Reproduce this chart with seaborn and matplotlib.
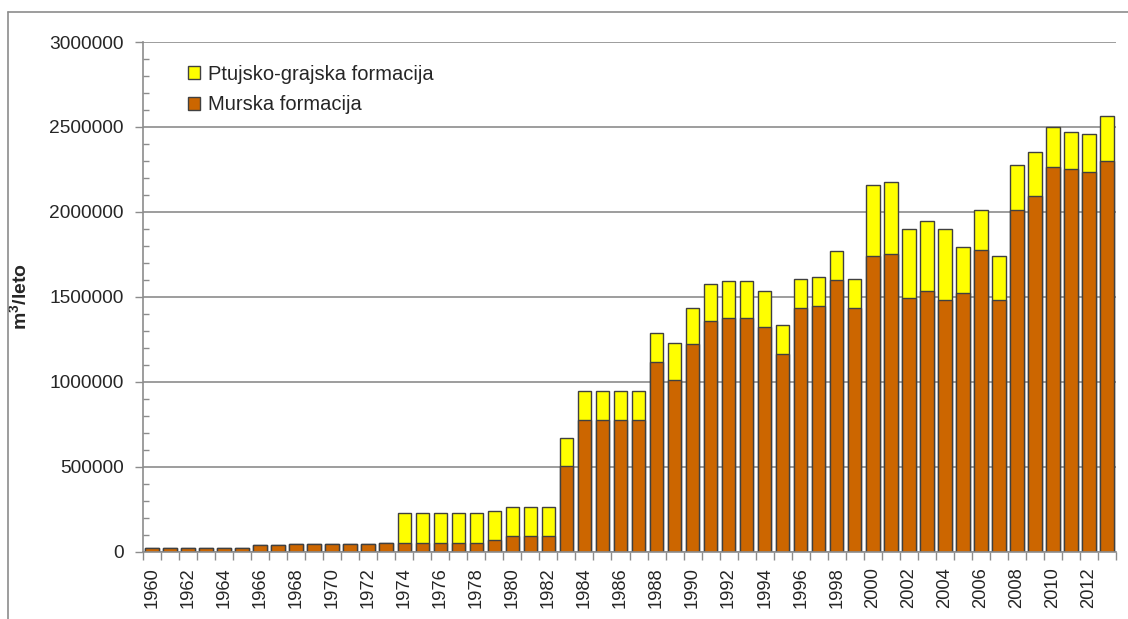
import numpy as np
import matplotlib
matplotlib.use("Agg")
import matplotlib.pyplot as plt
from matplotlib.patches import Patch
from matplotlib.lines import Line2D
import seaborn as sns

sns.set_style("white")
plt.rcParams["font.family"] = ["Liberation Sans", "DejaVu Sans"]
plt.rcParams["mathtext.fontset"] = "custom"
plt.rcParams["mathtext.rm"] = "Liberation Sans"
plt.rcParams["mathtext.bf"] = "Liberation Sans:bold"

years = list(range(1960, 2014))

murska = [
    20000, 20000, 20000, 20000, 20000, 20000,           # 1960-1965
    37000, 37000,                                        # 1966-1967
    45000, 45000, 45000, 45000, 45000,                   # 1968-1972
    53000,                                               # 1973
    52000, 52000, 52000, 52000, 52000,                   # 1974-1978
    67000,                                               # 1979
    93000, 93000, 93000,                                 # 1980-1982
    505000,                                              # 1983
    775000, 775000, 775000, 775000,                      # 1984-1987
    1118000, 1008000, 1220000, 1359000, 1375000, 1375000,  # 1988-1993
    1322000, 1165000, 1437000, 1445000, 1600000, 1437000,  # 1994-1999
    1741000, 1755000, 1492000, 1537000, 1482000, 1522000,  # 2000-2005
    1778000, 1482000, 2010000, 2096000, 2267000, 2251000,  # 2006-2011
    2237000, 2298000,                                    # 2012-2013
]

ptujsko = [
    0, 0, 0, 0, 0, 0,
    0, 0,
    0, 0, 0, 0, 0,
    0,
    173000, 173000, 173000, 173000, 173000,
    174000,
    172000, 172000, 172000,
    165000,
    172000, 172000, 172000, 172000,
    170000, 218000, 217000, 218000, 217000, 217000,
    215000, 170000, 169000, 171000, 171000, 169000,
    418000, 422000, 410000, 412000, 420000, 272000,
    234000, 257000, 265000, 257000, 233000, 218000,
    224000, 265000,
]

series_names = ["Ptujsko-grajska formacija", "Murska formacija"]
yticks = [0, 500000, 1000000, 1500000, 2000000, 2500000, 3000000]

yellow = "#FFFF00"
brown = "#CC6600"
edge = "#404040"
gray = "#8C8C8C"

labels = [str(y) for y in years]
total = [m + p for m, p in zip(murska, ptujsko)]

fig = plt.figure(figsize=(11.28, 6.19), dpi=100)
ax = fig.add_axes([143 / 1128, 1 - 551.7 / 619, 973 / 1128, 509.7 / 619])

sns.barplot(x=labels, y=total, color=yellow, saturation=1, width=0.75,
            edgecolor=edge, linewidth=1.0, errorbar=None, ax=ax, zorder=3)
sns.barplot(x=labels, y=murska, color=brown, saturation=1, width=0.75,
            edgecolor=edge, linewidth=1.0, errorbar=None, ax=ax, zorder=3)

ax.set_xlim(-0.5, len(years) - 0.5)
ax.set_ylim(0, 3000000)

ax.set_yticks(yticks)
ax.set_yticklabels([str(v) for v in yticks], fontsize=13.8)
ax.set_yticks(np.arange(0, 3000001, 100000), minor=True)
ax.tick_params(axis="y", which="major", direction="out", length=6, width=1,
               color=gray, pad=8, left=True)
ax.tick_params(axis="y", which="minor", direction="in", length=4, width=1,
               color=gray, left=True)

ax.set_xticks(range(0, len(years), 2))
ax.set_xticklabels(labels[::2], rotation=90, fontsize=13.2)
ax.set_xticks(np.arange(-0.5, len(years), 1), minor=True)
ax.tick_params(axis="x", which="major", length=0, pad=11)
ax.tick_params(axis="x", which="minor", direction="out", length=6, width=1,
               color=gray, bottom=True)

ax.yaxis.grid(True, color=gray, linewidth=1.2, zorder=0)
ax.xaxis.grid(False)
ax.set_axisbelow(True)
for side in ["top", "right"]:
    ax.spines[side].set_visible(False)
for side in ["left", "bottom"]:
    ax.spines[side].set_color(gray)
    ax.spines[side].set_linewidth(1.2)
    ax.spines[side].set_zorder(4)

ax.set_xlabel("")
ax.set_ylabel(r"$\mathbf{m^3/leto}$", fontsize=14)
ax.yaxis.set_label_coords(-0.116, 0.5)

handles = [Patch(facecolor=yellow, edgecolor=edge, linewidth=1.0),
           Patch(facecolor=brown, edgecolor=edge, linewidth=1.0)]
ax.legend(handles, series_names, loc="upper left",
          bbox_to_anchor=(0.046, 0.955), frameon=False, fontsize=14.5,
          handlelength=0.6, handleheight=0.6, handletextpad=0.4,
          labelspacing=0.57, borderpad=0, borderaxespad=0)

# outer chart-area frame
fig.add_artist(Line2D([8 / 1128, 1], [1 - 12 / 619, 1 - 12 / 619],
                      color=gray, linewidth=1.2, transform=fig.transFigure))
fig.add_artist(Line2D([8 / 1128, 8 / 1128], [0, 1 - 12 / 619],
                      color=gray, linewidth=1.2, transform=fig.transFigure))

fig.savefig("out.png", dpi=100)
